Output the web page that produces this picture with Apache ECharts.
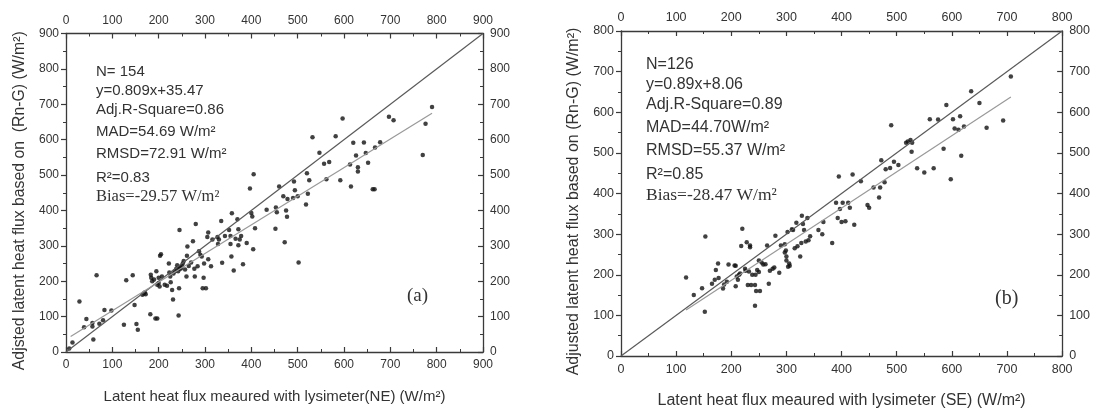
<!DOCTYPE html>
<html><head><meta charset="utf-8">
<script src="https://cdn.jsdelivr.net/npm/echarts@6/dist/echarts.min.js"></script>
<style>html,body{margin:0;padding:0;background:#fff}#c{width:1093px;height:414px}</style>
</head><body><div id="c"></div>
<script>
// Panel (a): NE lysimeter vs adjusted LE (W/m2)
const pointsA = [
[7,10],[14,27],[29,143],[39,70],[44,93],[57,82],[57,72],[59,35],[66,217],[72,80],
[80,90],[83,119],[98,117],[125,77],[130,203],[144,217],[148,133],[152,79],[155,63],[165,162],
[168,165],[170,168],[172,163],[182,107],[183,218],[184,210],[186,200],[190,205],[193,95],[197,95],
[195,228],[197,190],[200,210],[200,195],[202,185],[203,272],[205,276],[207,213],[213,190],[218,187],
[222,250],[223,225],[225,213],[226,197],[229,175],[231,148],[232,222],[235,228],[238,235],[240,245],
[243,103],[244,180],[245,345],[246,240],[248,236],[250,243],[252,250],[254,257],[257,233],[260,213],
[261,272],[262,298],[265,243],[270,253],[274,313],[277,235],[278,213],[280,362],[284,242],[287,285],
[290,275],[293,270],[295,180],[297,210],[298,250],[302,180],[305,325],[307,338],[307,262],[313,242],
[316,318],[327,325],[328,305],[330,318],[335,370],[337,252],[343,328],[352,345],[355,305],[355,328],
[357,270],[358,392],[362,230],[366,320],[370,375],[372,302],[372,347],[375,318],[378,328],[382,248],
[390,308],[397,462],[400,393],[402,383],[404,290],[405,502],[408,350],[433,402],[452,348],[453,408],
[455,395],[460,468],[469,440],[472,310],[475,400],[477,382],[478,432],[490,435],[492,482],[494,457],
[500,440],[502,253],[518,417],[520,505],[522,447],[525,485],[532,607],[547,563],[557,532],[562,488],
[568,537],[582,610],[592,485],[597,660],[613,530],[615,468],[620,591],[626,555],[630,522],[630,510],
[643,592],[647,562],[652,535],[662,460],[666,460],[667,578],[678,593],[697,665],[707,655],[770,557],
[776,645],[790,692],[245,235],[242,228]
];
// Panel (b): SE lysimeter vs adjusted LE (W/m2)
const pointsB = [
[118,193],[132,150],[147,167],[153,294],[152,109],[165,178],[170,188],[172,212],[176,228],[177,192],
[185,166],[187,176],[192,183],[195,225],[206,223],[208,222],[208,172],[210,196],[212,188],[214,200],
[216,203],[218,271],[220,313],[225,215],[228,280],[230,175],[232,208],[234,272],[234,268],[236,175],
[238,200],[243,124],[243,175],[245,160],[247,212],[250,235],[250,207],[252,160],[255,230],[258,225],
[262,226],[265,272],[268,178],[270,210],[275,215],[278,218],[280,296],[287,205],[290,272],[297,275],
[299,260],[300,245],[300,235],[302,305],[303,220],[305,228],[306,222],[310,312],[315,265],[318,328],
[320,270],[325,245],[327,278],[328,345],[330,325],[332,310],[335,282],[338,340],[340,285],[343,295],
[358,310],[365,300],[367,330],[383,278],[390,377],[393,340],[395,442],[397,362],[400,330],[402,377],
[407,332],[412,377],[415,365],[420,447],[423,323],[435,430],[447,372],[450,365],[458,415],[468,390],
[470,415],[472,482],[478,428],[480,460],[488,463],[490,568],[495,478],[503,470],[517,525],[520,528],
[525,532],[527,503],[528,525],[537,462],[550,452],[560,583],[567,462],[575,582],[585,510],[590,618],
[598,435],[602,583],[605,560],[612,557],[615,590],[617,493],[622,565],[635,652],[650,623],[663,562],
[693,580],[707,688],[226,210],[244,200],[297,255],[312,310]
];
const axisMaxA = 900, axisMaxB = 800, tickStep = 100;
const fitA = [0.809, 35.47], fitRangeA = [10, 790];
const fitB = [0.89, 8.06], fitRangeB = [118, 707];
const statsA = ['N= 154','y=0.809x+35.47','Adj.R-Square=0.86','MAD=54.69 W/m²','RMSD=72.91 W/m²','R²=0.83','Bias=-29.57 W/m²'];
const statsB = ['N=126','y=0.89x+8.06','Adj.R-Square=0.89','MAD=44.70W/m²','RMSD=55.37 W/m²','R²=0.85','Bias=-28.47 W/m²'];
const xNameA = 'Latent heat flux meaured with lysimeter(NE) (W/m²)';
const yNameA = 'Adjsted latent heat flux based on  (Rn-G) (W/m²)';
const xNameB = 'Latent heat flux meaured with lysimeter (SE) (W/m²)';
const yNameB = 'Adjusted latent heat flux based on (Rn-G) (W/m²)';
const panelLabels = ['(a)','(b)'];

const SANS = 'Liberation Sans, Arial, sans-serif';
const SERIF = 'Liberation Serif, Times New Roman, serif';
const AX = '#3a3a3a';

function axis(gridIndex, pos, max, inside, fs, name, nameGap, nfs, pad) {
  return {
    type: 'value', gridIndex, position: pos, min: 0, max, interval: tickStep,
    name: name || '', nameLocation: 'middle', nameGap: nameGap || 0,
    nameTextStyle: {fontFamily: SANS, fontSize: nfs || 15, color: '#333', padding: pad || 0},
    axisLine: {show: true, onZero: false, lineStyle: {color: AX, width: 1.3}},
    axisTick: {show: true, inside, length: 5, lineStyle: {color: AX, width: 1.2}},
    minorTick: {show: true, splitNumber: 2, length: 3, lineStyle: {color: AX, width: 1}},
    splitLine: {show: false},
    axisLabel: {show: true, color: '#333', fontFamily: SANS, fontSize: fs, margin: 7}
  };
}
function fitLine(fit, range) {
  return range.map(x => [x, fit[0] * x + fit[1]]);
}
function statGraphics(lines, left, tops, fs) {
  return lines.map((t, i) => ({
    type: 'text', left, top: tops[i],
    style: {text: t, fill: '#333', font: (i === lines.length - 1 ? (fs + 1.5) + 'px ' + SERIF : fs + 'px ' + SANS)}
  }));
}

const chart = echarts.init(document.getElementById('c'), null, {renderer: 'canvas'});
chart.setOption({
  animation: false,
  backgroundColor: '#fff',
  grid: [
    {left: 66, right: 610, top: 33.5, bottom: 62},
    {left: 621, right: 30, top: 31, bottom: 55}
  ],
  xAxis: [
    axis(0, 'bottom', axisMaxA, true, 12, xNameA, 37, 15),
    axis(0, 'top', axisMaxA, true, 12),
    axis(1, 'bottom', axisMaxB, true, 12.5, xNameB, 37, 16),
    axis(1, 'top', axisMaxB, true, 12.5)
  ],
  yAxis: [
    axis(0, 'left', axisMaxA, false, 12, yNameA, 38, 15.8, [0, 16, 0, 0]),
    axis(0, 'right', axisMaxA, true, 12),
    axis(1, 'left', axisMaxB, false, 12.5, yNameB, 39, 16, [0, 16, 0, 0]),
    axis(1, 'right', axisMaxB, true, 12.5)
  ],
  series: [
    {type: 'line', xAxisIndex: 0, yAxisIndex: 0, data: [[0,0],[axisMaxA,axisMaxA]], symbol: 'none', lineStyle: {color: '#5a5a5a', width: 1.2}},
    {type: 'line', xAxisIndex: 0, yAxisIndex: 0, data: fitLine(fitA, fitRangeA), symbol: 'none', lineStyle: {color: '#999', width: 1.2}},
    {type: 'scatter', xAxisIndex: 0, yAxisIndex: 0, data: pointsA, symbolSize: 4.5, itemStyle: {color: '#111'}},
    {type: 'line', xAxisIndex: 2, yAxisIndex: 2, data: [[0,0],[axisMaxB,axisMaxB]], symbol: 'none', lineStyle: {color: '#5a5a5a', width: 1.2}},
    {type: 'line', xAxisIndex: 2, yAxisIndex: 2, data: fitLine(fitB, fitRangeB), symbol: 'none', lineStyle: {color: '#999', width: 1.2}},
    {type: 'scatter', xAxisIndex: 2, yAxisIndex: 2, data: pointsB, symbolSize: 4.5, itemStyle: {color: '#111'}}
  ],
  graphic: [
    ...statGraphics(statsA, 96, [64, 83, 102, 124, 146, 170, 188], 15),
    ...statGraphics(statsB, 646, [57, 77, 97, 120, 143, 167, 186], 16),
    {type: 'text', left: 407, top: 287, style: {text: panelLabels[0], fill: '#333', font: '19px ' + SERIF}},
    {type: 'text', left: 995, top: 289, style: {text: panelLabels[1], fill: '#333', font: '20px ' + SERIF}}
  ]
});
</script></body></html>
